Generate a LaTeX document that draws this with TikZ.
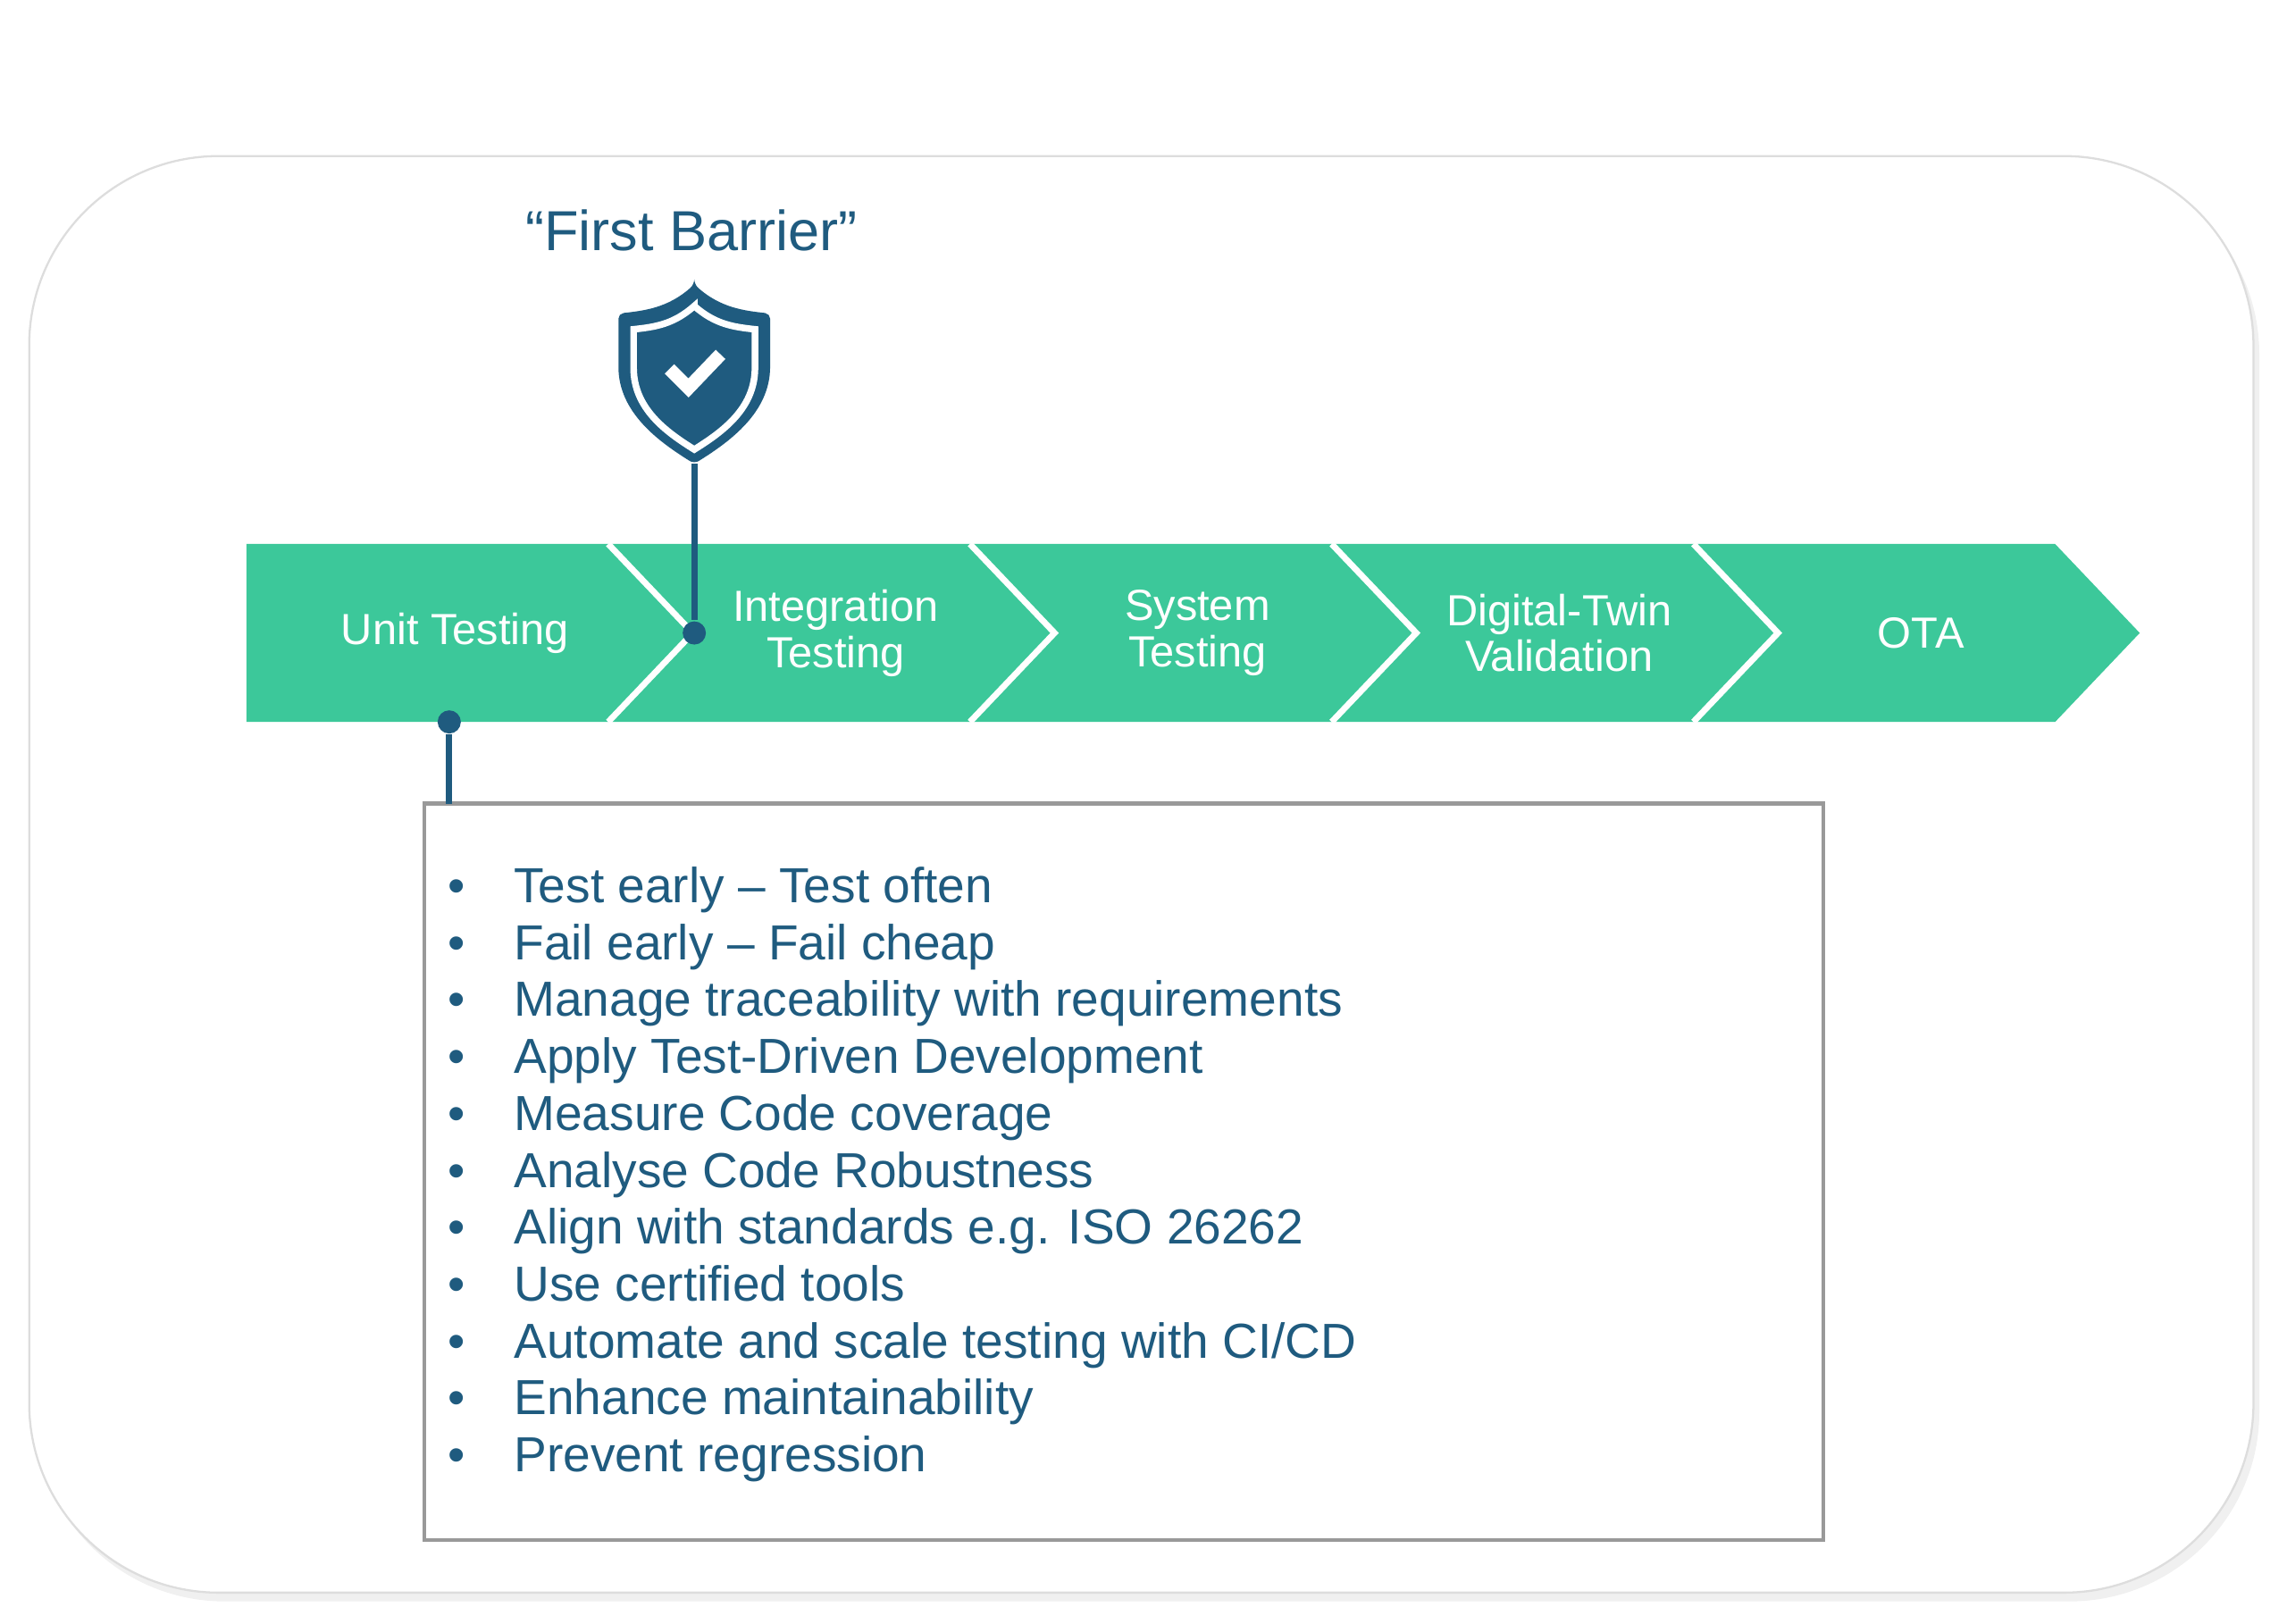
\documentclass[tikz,border=0pt]{standalone}
\usepackage{fontspec}
\setmainfont{Liberation Sans}
\definecolor{teal}{HTML}{3CC89A}
\definecolor{navy}{HTML}{1F5B7F}
\definecolor{framegray}{HTML}{DDDDDD}
\newcommand\shieldoutline{(0,0.58) .. controls (0.18,0.42) and (0.34,0.40) .. (0.52,0.38) -- (0.52,0.05) .. controls (0.52,-0.3) and (0.24,-0.5) .. (0,-0.65) .. controls (-0.24,-0.5) and (-0.52,-0.3) .. (-0.52,0.05) -- (-0.52,0.38) .. controls (-0.34,0.40) and (-0.18,0.42) .. cycle}
\begin{document}
\begin{tikzpicture}[
    label/.style={text=white, font=\fontsize{8.5}{9}\selectfont, align=center},
    item/.style={anchor=base west, text=navy, font=\fontsize{9.6}{11}\selectfont},
    dot/.style={circle, fill=navy, inner sep=1.6pt}]
    \useasboundingbox (0,0) rectangle (15.68,11.13);

    % outer frame
    \fill[black!6, rounded corners=1.3cm] (0.24,0.15) rectangle (15.49,10.0);
    \draw[framegray, fill=white, rounded corners=1.3cm] (0.20,0.21) rectangle (15.45,10.06);

    % chevron band
    \fill[teal] (1.69,7.40) -- (14.09,7.40) -- (14.67,6.79) -- (14.09,6.18) -- (1.69,6.18) -- cycle;
    \foreach \x in {4.17,6.65,9.13,11.61}
        \draw[white, line width=1.2pt] (\x,7.40) -- (\x+0.58,6.79) -- (\x,6.18);

    \node[label] (unit) at (3.12,6.79) {Unit Testing};
    \node[label] (integ) at (5.73,6.79) {Integration\\Testing};
    \node[label] (sys) at (8.21,6.79) {System\\Testing};
    \node[label] (twin) at (10.69,6.79) {Digital-Twin\\Validation};
    \node[label] (ota) at (13.17,6.79) {OTA};

    % first barrier
    \node[text=navy, font=\fontsize{11}{13}\selectfont] (title) at (4.74,9.55) {“First Barrier”};
    \begin{scope}[shift={(4.76,8.60)}]
        \fill[navy, rounded corners=1pt] \shieldoutline;
        \draw[white, line width=1.3pt, scale=0.8, yshift=-0.04cm] \shieldoutline;
        \draw[white, line width=2.6pt] (-0.17,0.0) -- (-0.04,-0.13) -- (0.18,0.10);
        \coordinate (tip) at (0,-0.65);
    \end{scope}
    \node[dot] (bdot) at (4.76,6.79) {};
    \draw[navy, line width=1.2pt] (tip) -- (bdot);

    % notes
    \node[dot] (udot) at (3.08,6.18) {};
    \draw[black!40, line width=0.8pt] (2.91,0.57) rectangle (12.50,5.62);
    \coordinate (boxtop) at (3.08,5.62);
    \draw[navy, line width=1.2pt] (udot) -- (boxtop);

    \foreach \t [count=\i from 0] in {Test early -- Test often, Fail early -- Fail cheap,
        Manage traceability with requirements, Apply Test-Driven Development,
        Measure Code coverage, Analyse Code Robustness,
        Align with standards e.g. ISO 26262, Use certified tools,
        Automate and scale testing with CI/CD, Enhance maintainability,
        Prevent regression} {
        \node[item] (b\i) at (2.95,4.94-0.39*\i) {•};
        \node[item] (t\i) at (3.40,4.94-0.39*\i) {\t};
    }
\end{tikzpicture}
\end{document}
